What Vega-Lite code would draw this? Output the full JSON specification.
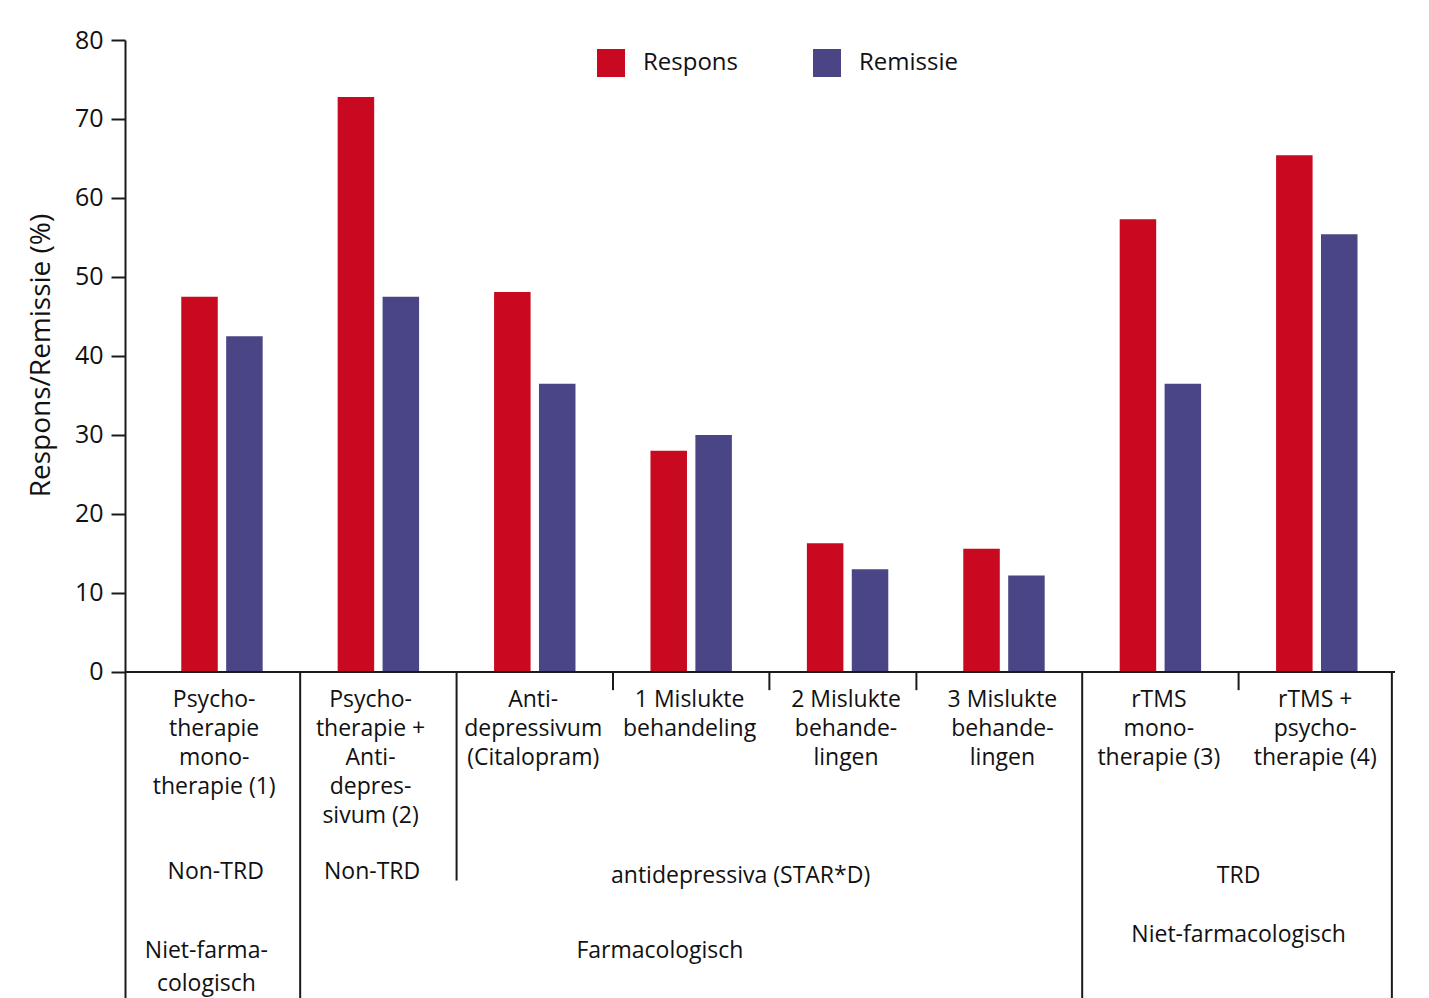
{
  "$schema": "https://vega.github.io/schema/vega-lite/v6.json",
  "width": 1270,
  "height": 958,
  "autosize": "none",
  "padding": {"left": 125, "top": 40, "right": 34, "bottom": 0},
  "background": "white",
  "config": {"view": {"stroke": null}, "font": "Open Sans"},
  "layer": [
    {
      "data": {"values": [
        {"g": "G1", "measure": "Respons", "value": 47.5},
        {"g": "G1", "measure": "Remissie", "value": 42.5},
        {"g": "G2", "measure": "Respons", "value": 72.8},
        {"g": "G2", "measure": "Remissie", "value": 47.5},
        {"g": "G3", "measure": "Respons", "value": 48.1},
        {"g": "G3", "measure": "Remissie", "value": 36.5},
        {"g": "G4", "measure": "Respons", "value": 28.0},
        {"g": "G4", "measure": "Remissie", "value": 30.0},
        {"g": "G5", "measure": "Respons", "value": 16.3},
        {"g": "G5", "measure": "Remissie", "value": 13.0},
        {"g": "G6", "measure": "Respons", "value": 15.6},
        {"g": "G6", "measure": "Remissie", "value": 12.2},
        {"g": "G7", "measure": "Respons", "value": 57.3},
        {"g": "G7", "measure": "Remissie", "value": 36.5},
        {"g": "G8", "measure": "Respons", "value": 65.4},
        {"g": "G8", "measure": "Remissie", "value": 55.4}
      ]},
      "mark": {"type": "bar"},
      "encoding": {
        "x": {"field": "g", "type": "nominal", "axis": null,
              "scale": {"domain": ["G1","G2","G3","G4","G5","G6","G7","G8"], "paddingInner": 0, "paddingOuter": 0.06, "align": 1}},
        "xOffset": {"field": "measure", "type": "nominal",
              "scale": {"domain": ["Respons", "Remissie"], "paddingInner": 0.187, "paddingOuter": 0.835}},
        "y": {"field": "value", "type": "quantitative",
              "scale": {"domain": [-41.27, 80], "nice": false, "zero": false},
              "axis": {"values": [0,10,20,30,40,50,60,70,80], "title": "Respons/Remissie (%)", "grid": false,
                       "tickSize": 14, "tickWidth": 2, "tickColor": "#1a1a1a", "domainColor": "#1a1a1a", "domainWidth": 2,
                       "labelPadding": 8, "labelFontSize": 25, "labelColor": "#111", "labelFont": "Open Sans",
                       "titleFontSize": 28, "titleFontWeight": "normal", "titleColor": "#111", "titleFont": "Open Sans",
                       "titleX": -84, "titleY": 315, "titleAlign": "center", "titleBaseline": "middle", "titleAngle": -90}},
        "color": {"field": "measure", "type": "nominal",
                  "scale": {"domain": ["Respons", "Remissie"], "range": ["#C9091F", "#4A4686"]},
                  "legend": {"orient": "none", "legendX": 472, "legendY": 9, "direction": "horizontal", "title": null,
                             "symbolType": "square", "symbolSize": 784, "symbolStrokeWidth": 0, "labelFontSize": 24,
                             "labelFont": "Open Sans", "labelColor": "#111", "labelOffset": 18, "columnPadding": 74, "padding": 0,
                             "labelBaseline": "middle", "labelOffset": 18}}
      }
    },
    {
      "data": {"values": [{"k": "base"}]},
      "mark": {"type": "rule", "color": "#1a1a1a", "strokeWidth": 2},
      "encoding": {"y": {"datum": 0, "type": "quantitative"}}
    },
    {
      "data": {"values": [{"g": "G2"}, {"g": "G7"}]},
      "mark": {"type": "rule", "color": "#1a1a1a", "strokeWidth": 2},
      "encoding": {
        "x": {"field": "g", "type": "nominal", "axis": null, "bandPosition": 0},
        "y": {"datum": 0, "type": "quantitative"},
        "y2": {"datum": -41.27}
      }
    },
    {
      "data": {"values": [{"g": "G8"}]},
      "mark": {"type": "rule", "color": "#1a1a1a", "strokeWidth": 2},
      "encoding": {
        "x": {"field": "g", "type": "nominal", "axis": null, "bandPosition": 0.98},
        "y": {"datum": 0, "type": "quantitative"},
        "y2": {"datum": -41.27}
      }
    },
    {
      "data": {"values": [{"g": "G3"}]},
      "mark": {"type": "rule", "color": "#1a1a1a", "strokeWidth": 2},
      "encoding": {
        "x": {"field": "g", "type": "nominal", "axis": null, "bandPosition": 0},
        "y": {"datum": 0, "type": "quantitative"},
        "y2": {"datum": -26.4}
      }
    },
    {
      "data": {"values": [{"g": "G4"}, {"g": "G5"}, {"g": "G8"}]},
      "mark": {"type": "rule", "color": "#1a1a1a", "strokeWidth": 2},
      "encoding": {
        "x": {"field": "g", "type": "nominal", "axis": null, "bandPosition": 0},
        "y": {"datum": 0, "type": "quantitative"},
        "y2": {"datum": -2.3}
      }
    },
    {
      "data": {"values": [{"g": "G5"}]},
      "mark": {"type": "rule", "color": "#1a1a1a", "strokeWidth": 2},
      "encoding": {
        "x": {"field": "g", "type": "nominal", "axis": null, "bandPosition": 0.94},
        "y": {"datum": 0, "type": "quantitative"},
        "y2": {"datum": -2.3}
      }
    },
    {
      "data": {"values": [
        {"g": "G1", "label": "Psycho-\ntherapie\nmono-\ntherapie (1)"},
        {"g": "G2", "label": "Psycho-\ntherapie +\nAnti-\ndepres-\nsivum (2)"}
      ]},
      "mark": {"type": "text", "lineBreak": "\n", "fontSize": 23, "lineHeight": 29, "baseline": "alphabetic", "align": "center", "color": "#111", "font": "Open Sans"},
      "encoding": {
        "x": {"field": "g", "type": "nominal", "axis": null, "bandPosition": 0.45},
        "y": {"datum": -4.43, "type": "quantitative"},
        "text": {"field": "label"}
      }
    },
    {
      "data": {"values": [
        {"g": "G3", "label": "Anti-\ndepressivum\n(Citalopram)"},
        {"g": "G4", "label": "1 Mislukte\nbehandeling"},
        {"g": "G5", "label": "2 Mislukte\nbehande-\nlingen"},
        {"g": "G6", "label": "3 Mislukte\nbehande-\nlingen"},
        {"g": "G7", "label": "rTMS\nmono-\ntherapie (3)"},
        {"g": "G8", "label": "rTMS +\npsycho-\ntherapie (4)"}
      ]},
      "mark": {"type": "text", "lineBreak": "\n", "fontSize": 23, "lineHeight": 29, "baseline": "alphabetic", "align": "center", "color": "#111", "font": "Open Sans"},
      "encoding": {
        "x": {"field": "g", "type": "nominal", "axis": null, "bandPosition": 0.49},
        "y": {"datum": -4.43, "type": "quantitative"},
        "text": {"field": "label"}
      }
    },
    {
      "data": {"values": [{"g": "G1", "label": "Non-TRD"}, {"g": "G2", "label": "Non-TRD"}]},
      "mark": {"type": "text", "fontSize": 23, "baseline": "alphabetic", "align": "center", "color": "#111", "font": "Open Sans"},
      "encoding": {
        "x": {"field": "g", "type": "nominal", "axis": null, "bandPosition": 0.46},
        "y": {"datum": -26.2, "type": "quantitative"},
        "text": {"field": "label"}
      }
    },
    {
      "data": {"values": [{"g": "G4", "label": "antidepressiva (STAR*D)"}]},
      "mark": {"type": "text", "fontSize": 23, "baseline": "alphabetic", "align": "center", "color": "#111", "font": "Open Sans"},
      "encoding": {
        "x": {"field": "g", "type": "nominal", "axis": null, "bandPosition": 0.816},
        "y": {"datum": -26.7, "type": "quantitative"},
        "text": {"field": "label"}
      }
    },
    {
      "data": {"values": [{"g": "G8", "label": "TRD"}]},
      "mark": {"type": "text", "fontSize": 23, "baseline": "alphabetic", "align": "center", "color": "#111", "font": "Open Sans"},
      "encoding": {
        "x": {"field": "g", "type": "nominal", "axis": null, "bandPosition": 0},
        "y": {"datum": -26.7, "type": "quantitative"},
        "text": {"field": "label"}
      }
    },
    {
      "data": {"values": [{"g": "G1", "label": "Niet-farma-\ncologisch"}]},
      "mark": {"type": "text", "lineBreak": "\n", "fontSize": 23, "lineHeight": 33, "baseline": "alphabetic", "align": "center", "color": "#111", "font": "Open Sans"},
      "encoding": {
        "x": {"field": "g", "type": "nominal", "axis": null, "bandPosition": 0.40},
        "y": {"datum": -36.2, "type": "quantitative"},
        "text": {"field": "label"}
      }
    },
    {
      "data": {"values": [{"g": "G4", "label": "Farmacologisch"}]},
      "mark": {"type": "text", "fontSize": 23, "baseline": "alphabetic", "align": "center", "color": "#111", "font": "Open Sans"},
      "encoding": {
        "x": {"field": "g", "type": "nominal", "axis": null, "bandPosition": 0.30},
        "y": {"datum": -36.2, "type": "quantitative"},
        "text": {"field": "label"}
      }
    },
    {
      "data": {"values": [{"g": "G8", "label": "Niet-farmacologisch"}]},
      "mark": {"type": "text", "fontSize": 23, "baseline": "alphabetic", "align": "center", "color": "#111", "font": "Open Sans"},
      "encoding": {
        "x": {"field": "g", "type": "nominal", "axis": null, "bandPosition": 0},
        "y": {"datum": -34.2, "type": "quantitative"},
        "text": {"field": "label"}
      }
    }
  ]
}
